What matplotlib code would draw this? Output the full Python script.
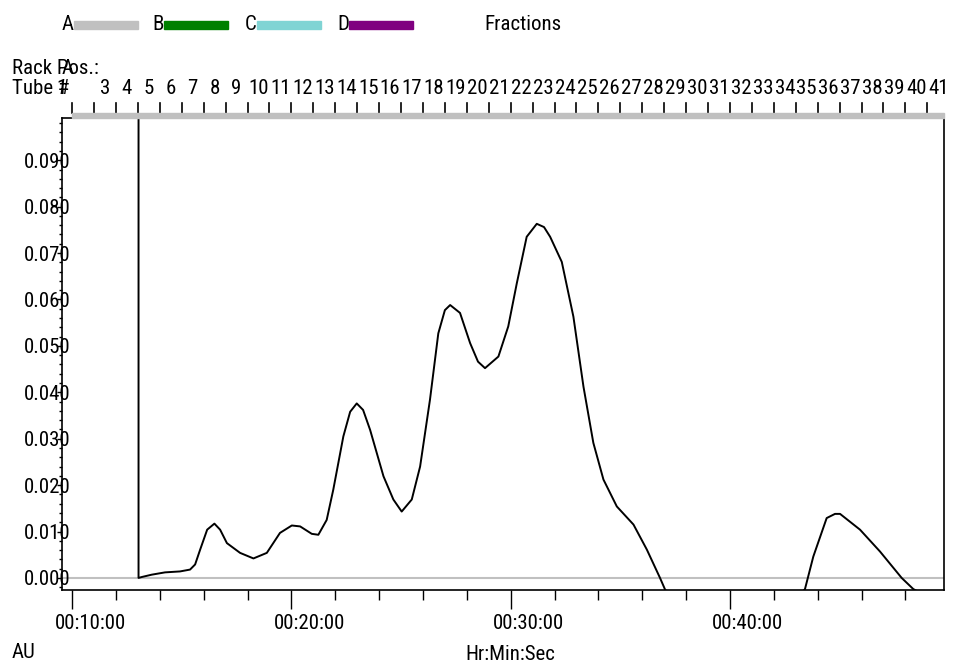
import matplotlib.pyplot as plt
import matplotlib.transforms as mtransforms
from matplotlib.lines import Line2D
from matplotlib.patches import Rectangle
from matplotlib.ticker import FuncFormatter, MultipleLocator
from matplotlib import font_manager

# the reference uses a narrow Arial-like face; take a condensed one if there is one
fonts = font_manager.fontManager.ttflist
names = {f.name for f in fonts}
stretch = "normal"
family = None
for cand in ["Liberation Sans Narrow", "Roboto Condensed", "Open Sans Condensed"]:
    if cand in names:
        family = cand
        break
if family is None and any(f.name == "DejaVu Sans" and f.stretch == "condensed" for f in fonts):
    family, stretch = "DejaVu Sans", "condensed"
if family is None:
    family = "Liberation Sans"
    plt.rcParams["font.size"] = 13.5
else:
    plt.rcParams["font.size"] = 15
plt.rcParams["font.family"] = [family, "DejaVu Sans"]
plt.rcParams["font.stretch"] = stretch

# trace (time in minutes, absorbance in AU)
time_min = [13.03, 13.03, 13.18, 13.63, 14.24, 14.92, 15.38, 15.61, 15.84, 16.16,
            16.49, 16.75, 17.06, 17.66, 18.27, 18.88, 19.48, 20.02, 20.40, 20.93,
            21.23, 21.61, 21.91, 22.37, 22.68, 22.98, 23.27, 23.59, 24.20, 24.65,
            25.03, 25.49, 25.87, 26.32, 26.70, 27.00, 27.24, 27.69, 28.15, 28.51,
            28.83, 29.44, 29.89, 30.28, 30.73, 31.19, 31.52, 31.80, 32.33, 32.86,
            33.32, 33.77, 34.23, 34.84, 35.60, 36.21, 36.81, 37.04, 37.72, 42.74,
            43.42, 43.80, 44.41, 44.79, 45.02, 45.93, 46.84, 47.83, 48.36, 49.80]
absorbance = [0.1200, 0.0000, 0.0002, 0.0007, 0.0012, 0.0014, 0.0018, 0.0029, 0.0061, 0.0104,
              0.0117, 0.0104, 0.0075, 0.0054, 0.0042, 0.0054, 0.0097, 0.0113, 0.0111, 0.0095,
              0.0093, 0.0125, 0.0190, 0.0305, 0.0358, 0.0376, 0.0362, 0.0319, 0.0219, 0.0169,
              0.0143, 0.0169, 0.0240, 0.0384, 0.0527, 0.0577, 0.0588, 0.0571, 0.0506, 0.0466,
              0.0452, 0.0477, 0.0542, 0.0635, 0.0735, 0.0763, 0.0756, 0.0735, 0.0681, 0.0563,
              0.0412, 0.0291, 0.0212, 0.0154, 0.0115, 0.0061, 0.0000, -0.0025, -0.0060, -0.0060,
              -0.0024, 0.0046, 0.0129, 0.0138, 0.0138, 0.0104, 0.0057, 0.0000, -0.0024, -0.0060]

# fractions: one tube per minute, collected from 10 min on
fraction_edges = list(range(10, 50))
tube_numbers = [1] + list(range(3, 42))
tube_centres = [n + 8.5 for n in tube_numbers]
rack_label = "A"

legend_names = ["A", "B", "C", "D"]
legend_colors = ["#c0c0c0", "#008000", "#80d4d4", "#800080"]

x_min, x_max = 9.54, 49.76
y_min, y_max = -0.0026, 0.0991

fig = plt.figure(figsize=(9.54, 6.66), dpi=100)
ax = fig.add_axes([62 / 954, 1 - 590 / 666, 882 / 954, 472 / 666])

ax.axhline(0, color="#c0c0c0", lw=1.5, zorder=1)
ax.plot(time_min, absorbance, color="black", lw=1.4, zorder=2)

ax.set_xlim(x_min, x_max)
ax.set_ylim(y_min, y_max)

for s in ax.spines.values():
    s.set_linewidth(1.2)

ax.xaxis.set_major_locator(MultipleLocator(10))
ax.xaxis.set_minor_locator(MultipleLocator(2))
ax.xaxis.set_major_formatter(
    FuncFormatter(lambda v, p: f"{int(v // 60):02d}:{int(v % 60):02d}:00"))
ax.tick_params(axis="x", which="major", length=14, width=1, pad=3)
ax.tick_params(axis="x", which="minor", length=7, width=1)
# time labels sit a little right of their ticks in the reference
shift = mtransforms.ScaledTranslation(18 / 100, 0, fig.dpi_scale_trans)
for lab in ax.get_xticklabels():
    lab.set_transform(lab.get_transform() + shift)

ax.yaxis.set_major_locator(MultipleLocator(0.01))
ax.yaxis.set_minor_locator(MultipleLocator(0.002))
ax.yaxis.set_major_formatter(FuncFormatter(lambda v, p: f"{v:.3f}"))
ax.tick_params(axis="y", which="major", length=3.6, width=1, pad=-9.5)
ax.tick_params(axis="y", which="minor", length=2.2, width=1)

# fraction bar above the plot
xt = ax.get_xaxis_transform()
band_h = 5 / 472
ax.add_patch(Rectangle((fraction_edges[0], 1.0), x_max - fraction_edges[0], band_h,
                       transform=xt, color=legend_colors[0], clip_on=False, zorder=3))
for e in fraction_edges:
    ax.add_line(Line2D([e, e], [1.0 + band_h, 1.0 + 15 / 472], transform=xt,
                       color="black", lw=1.2, clip_on=False))
for n, c in zip(tube_numbers, tube_centres):
    ax.text(c, (590 - 88) / 472, str(n), transform=xt, ha="center", va="center")
ax.text(tube_centres[0] + 0.3, (590 - 69) / 472, rack_label, transform=xt,
        ha="center", va="center")

fig.text(12 / 954, 1 - 69 / 666, "Rack Pos.:", ha="left", va="center")
fig.text(12 / 954, 1 - 88 / 666, "Tube #", ha="left", va="center")

# legend of fraction colours
key_x = [62, 152, 245, 337]
for name, color, x0 in zip(legend_names, legend_colors, key_x):
    fig.text(x0 / 954, 1 - 25 / 666, name, ha="left", va="center")
    fig.add_artist(Rectangle(((x0 + 12) / 954, 1 - 29 / 666), 64 / 954, 8 / 666,
                             transform=fig.transFigure, color=color))
fig.text(523 / 954, 1 - 25 / 666, "Fractions", ha="center", va="center")

fig.text(12 / 954, 1 - 652 / 666, "AU", ha="left", va="center")
fig.text(510 / 954, 1 - 655 / 666, "Hr:Min:Sec", ha="center", va="center")

fig.savefig("out.png", dpi=100)
